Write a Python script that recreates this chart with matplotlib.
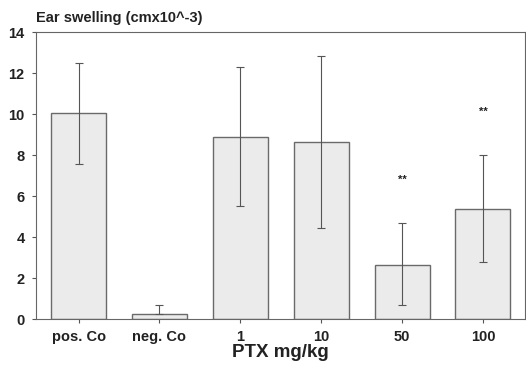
import matplotlib.pyplot as plt
import numpy as np

plt.rcParams['font.family'] = ['Liberation Sans', 'DejaVu Sans']

groups = ['pos. Co', 'neg. Co', '1', '10', '50', '100']
means = [10.05, 0.25, 8.9, 8.65, 2.65, 5.35]
upper = [12.5, 0.7, 12.3, 12.85, 4.7, 8.0]
lower = [7.55, 0.25, 5.5, 4.45, 0.7, 2.8]
star_groups = [4, 5]
star_y = [6.8, 10.1]

x = np.arange(len(groups))
err_lo = [m - l for m, l in zip(means, lower)]
err_hi = [u - m for m, u in zip(means, upper)]

fig = plt.figure(figsize=(5.26, 3.65), dpi=100)
ax = fig.add_axes([0.068, 0.126, 0.93, 0.786])

ax.bar(x, means, width=0.68, color='#ebebeb', edgecolor='#6a6a6a', linewidth=1.0, zorder=2)
ax.errorbar(x, means, yerr=[err_lo, err_hi], fmt='none', ecolor='#555555',
            elinewidth=0.8, capsize=3, capthick=0.8, zorder=3)
for g, sy in zip(star_groups, star_y):
    ax.text(x[g], sy, '**', ha='center', va='center', fontsize=8, fontweight='bold', color='#222222')

ax.set_xlim(-0.53, 5.52)
ax.set_ylim(0, 14)
ax.set_yticks(range(0, 15, 2))
ax.set_xticks(x)
ax.set_xticklabels(groups)
ax.tick_params(axis='both', labelsize=10.5, length=3, color='#555555', width=0.8)
for lab in ax.get_xticklabels() + ax.get_yticklabels():
    lab.set_fontweight('bold')
    lab.set_color('#222222')
ax.tick_params(axis='x', pad=5)
ax.tick_params(axis='y', pad=5)
for s in ['left', 'bottom', 'top', 'right']:
    ax.spines[s].set_color('#666666')
    ax.spines[s].set_linewidth(0.8)
ax.spines['top'].set_linestyle((0, (4, 1)))
ax.spines['bottom'].set_linestyle((0, (4, 1)))

ax.set_xlabel('PTX mg/kg', fontsize=13.5, fontweight='bold', color='#222222', labelpad=0)
fig.text(0.068, 0.94, 'Ear swelling (cmx10^-3)', fontsize=10.5, fontweight='bold', color='#222222')

fig.savefig('out.png', dpi=100)
